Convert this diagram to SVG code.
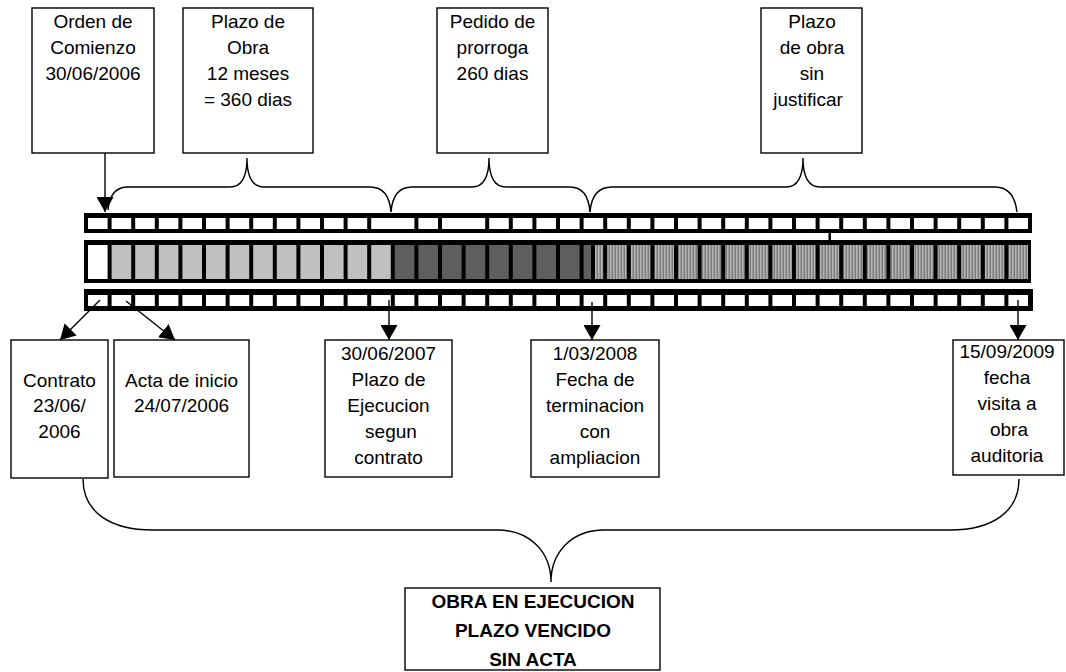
<svg xmlns="http://www.w3.org/2000/svg" xmlns:xlink="http://www.w3.org/1999/xlink" width="1066" height="672" viewBox="0 0 1066 672">
<style>
.box{fill:#fff;stroke:#000;stroke-width:1.4}
.t{font-family:"Liberation Sans",Arial,sans-serif;font-size:19px;fill:#000;text-anchor:middle}
.tb{font-family:"Liberation Sans",Arial,sans-serif;font-size:19px;font-weight:bold;fill:#000;text-anchor:middle}
.frame{fill:#000}
.w{fill:#fff}
.lg{fill:#c0c0c0}
.dg{fill:#5e5e5e}
.sg{fill:url(#stripe)}
.brace{fill:none;stroke:#000;stroke-width:1.4}
.arr{fill:none;stroke:#000;stroke-width:1.4;marker-end:url(#ah)}
</style>
<defs>
<pattern id="stripe" patternUnits="userSpaceOnUse" width="3" height="4">
<rect x="0" y="0" width="1" height="4" fill="#7c7c7c"/>
<rect x="1" y="0" width="1" height="4" fill="#b4b4b4"/>
<rect x="2" y="0" width="1" height="4" fill="#9a9a9a"/>
</pattern>
<marker id="ah" viewBox="0 0 15 17" refX="15" refY="8.5" markerWidth="15" markerHeight="17" markerUnits="userSpaceOnUse" orient="auto">
<path d="M0,0 L15,8.5 L0,17 z" fill="#000"/>
</marker>
</defs>
<rect x="0" y="0" width="1066" height="672" fill="#fff"/>

<g id="bar-top">
<rect class="frame" x="84" y="213" width="948" height="20"/>
<g class="w">
<rect x="88" y="218" width="19.6" height="11"/><rect x="111.6" y="218" width="19.6" height="11"/><rect x="135.2" y="218" width="19.6" height="11"/><rect x="158.8" y="218" width="19.6" height="11"/><rect x="182.4" y="218" width="19.6" height="11"/><rect x="206" y="218" width="19.6" height="11"/><rect x="229.6" y="218" width="19.6" height="11"/><rect x="253.2" y="218" width="19.6" height="11"/><rect x="276.8" y="218" width="19.6" height="11"/><rect x="300.4" y="218" width="19.6" height="11"/><rect x="324" y="218" width="19.6" height="11"/><rect x="347.6" y="218" width="19.6" height="11"/>
<rect x="371.2" y="218" width="43.2" height="11"/><rect x="418.4" y="218" width="19.6" height="11"/><rect x="442" y="218" width="43.2" height="11"/>
<rect x="489.2" y="218" width="19.6" height="11"/><rect x="512.8" y="218" width="19.6" height="11"/><rect x="536.4" y="218" width="19.6" height="11"/><rect x="560" y="218" width="19.6" height="11"/><rect x="583.6" y="218" width="19.6" height="11"/><rect x="607.2" y="218" width="19.6" height="11"/><rect x="630.8" y="218" width="19.6" height="11"/><rect x="654.4" y="218" width="19.6" height="11"/><rect x="678" y="218" width="19.6" height="11"/><rect x="701.6" y="218" width="19.6" height="11"/><rect x="725.2" y="218" width="19.6" height="11"/><rect x="748.8" y="218" width="19.6" height="11"/><rect x="772.4" y="218" width="19.6" height="11"/><rect x="796" y="218" width="19.6" height="11"/><rect x="819.6" y="218" width="19.6" height="11"/><rect x="843.2" y="218" width="19.6" height="11"/><rect x="866.8" y="218" width="19.6" height="11"/><rect x="890.4" y="218" width="19.6" height="11"/><rect x="914" y="218" width="19.6" height="11"/><rect x="937.6" y="218" width="19.6" height="11"/><rect x="961.2" y="218" width="19.6" height="11"/><rect x="984.8" y="218" width="19.6" height="11"/><rect x="1008.4" y="218" width="19.6" height="11"/>
</g>
<rect class="frame" x="828.5" y="233" width="2.5" height="7"/>
</g>

<g id="bar-middle">
<rect class="frame" x="84" y="240" width="947" height="43"/>
<rect class="w" x="88" y="245" width="19.6" height="34"/>
<g class="lg">
<rect x="111.6" y="245" width="19.6" height="34"/><rect x="135.2" y="245" width="19.6" height="34"/><rect x="158.8" y="245" width="19.6" height="34"/><rect x="182.4" y="245" width="19.6" height="34"/><rect x="206" y="245" width="19.6" height="34"/><rect x="229.6" y="245" width="19.6" height="34"/><rect x="253.2" y="245" width="19.6" height="34"/><rect x="276.8" y="245" width="19.6" height="34"/><rect x="300.4" y="245" width="19.6" height="34"/><rect x="324" y="245" width="19.6" height="34"/><rect x="347.6" y="245" width="19.6" height="34"/><rect x="371.2" y="245" width="19.6" height="34"/>
</g>
<g class="dg">
<rect x="394.8" y="245" width="19.6" height="34"/><rect x="418.4" y="245" width="19.6" height="34"/><rect x="442" y="245" width="19.6" height="34"/><rect x="465.6" y="245" width="19.6" height="34"/><rect x="489.2" y="245" width="19.6" height="34"/><rect x="512.8" y="245" width="19.6" height="34"/><rect x="536.4" y="245" width="19.6" height="34"/><rect x="560" y="245" width="19.6" height="34"/><rect x="583.6" y="245" width="7.4" height="34"/>
</g>
<g class="sg">
<rect x="595" y="245" width="8.2" height="34"/>
<rect x="607.2" y="245" width="19.6" height="34"/><rect x="630.8" y="245" width="19.6" height="34"/><rect x="654.4" y="245" width="19.6" height="34"/><rect x="678" y="245" width="19.6" height="34"/><rect x="701.6" y="245" width="19.6" height="34"/><rect x="725.2" y="245" width="19.6" height="34"/><rect x="748.8" y="245" width="19.6" height="34"/><rect x="772.4" y="245" width="19.6" height="34"/><rect x="796" y="245" width="19.6" height="34"/><rect x="819.6" y="245" width="19.6" height="34"/><rect x="843.2" y="245" width="19.6" height="34"/><rect x="866.8" y="245" width="19.6" height="34"/><rect x="890.4" y="245" width="19.6" height="34"/><rect x="914" y="245" width="19.6" height="34"/><rect x="937.6" y="245" width="19.6" height="34"/><rect x="961.2" y="245" width="19.6" height="34"/><rect x="984.8" y="245" width="19.6" height="34"/><rect x="1008.4" y="245" width="19.6" height="34"/>
</g>
</g>

<g id="bar-bottom">
<rect class="frame" x="84" y="289" width="949" height="22"/>
<g class="w">
<rect x="88" y="295" width="19.6" height="11"/><rect x="111.6" y="295" width="19.6" height="11"/><rect x="135.2" y="295" width="19.6" height="11"/><rect x="158.8" y="295" width="19.6" height="11"/><rect x="182.4" y="295" width="19.6" height="11"/><rect x="206" y="295" width="19.6" height="11"/><rect x="229.6" y="295" width="19.6" height="11"/><rect x="253.2" y="295" width="19.6" height="11"/><rect x="276.8" y="295" width="19.6" height="11"/><rect x="300.4" y="295" width="19.6" height="11"/><rect x="324" y="295" width="19.6" height="11"/><rect x="347.6" y="295" width="19.6" height="11"/><rect x="371.2" y="295" width="19.6" height="11"/><rect x="394.8" y="295" width="19.6" height="11"/><rect x="418.4" y="295" width="19.6" height="11"/><rect x="442" y="295" width="19.6" height="11"/><rect x="465.6" y="295" width="19.6" height="11"/><rect x="489.2" y="295" width="19.6" height="11"/><rect x="512.8" y="295" width="19.6" height="11"/><rect x="536.4" y="295" width="19.6" height="11"/><rect x="560" y="295" width="19.6" height="11"/><rect x="583.6" y="295" width="19.6" height="11"/><rect x="607.2" y="295" width="19.6" height="11"/><rect x="630.8" y="295" width="19.6" height="11"/><rect x="654.4" y="295" width="19.6" height="11"/><rect x="678" y="295" width="19.6" height="11"/><rect x="701.6" y="295" width="19.6" height="11"/><rect x="725.2" y="295" width="19.6" height="11"/><rect x="748.8" y="295" width="19.6" height="11"/><rect x="772.4" y="295" width="19.6" height="11"/><rect x="796" y="295" width="19.6" height="11"/><rect x="819.6" y="295" width="19.6" height="11"/><rect x="843.2" y="295" width="19.6" height="11"/><rect x="866.8" y="295" width="19.6" height="11"/><rect x="890.4" y="295" width="19.6" height="11"/><rect x="914" y="295" width="19.6" height="11"/><rect x="937.6" y="295" width="19.6" height="11"/><rect x="961.2" y="295" width="19.6" height="11"/><rect x="984.8" y="295" width="19.6" height="11"/><rect x="1008.4" y="295" width="19.6" height="11"/>
</g>
</g>

<g id="node-orden">
<rect class="box" x="32" y="8" width="122" height="145"/>
<text class="t" x="93" y="28">Orden de</text>
<text class="t" x="93" y="54">Comienzo</text>
<text class="t" x="93" y="80">30/06/2006</text>
</g>
<g id="node-plazo-obra">
<rect class="box" x="183" y="8" width="130" height="145"/>
<text class="t" x="248" y="28">Plazo de</text>
<text class="t" x="248" y="54">Obra</text>
<text class="t" x="248" y="80">12 meses</text>
<text class="t" x="248" y="106">= 360 dias</text>
</g>
<g id="node-pedido">
<rect class="box" x="437" y="8" width="111" height="145"/>
<text class="t" x="492.5" y="28">Pedido de</text>
<text class="t" x="492.5" y="54">prorroga</text>
<text class="t" x="492.5" y="80">260 dias</text>
</g>
<g id="node-sin-justificar">
<rect class="box" x="761" y="8" width="101" height="145"/>
<text class="t" x="812" y="28">Plazo</text>
<text class="t" x="812" y="54">de obra</text>
<text class="t" x="812" y="80">sin</text>
<text class="t" x="808" y="106">justificar</text>
</g>

<g id="node-contrato">
<rect class="box" x="11" y="340" width="97" height="138"/>
<text class="t" x="59.5" y="387">Contrato</text>
<text class="t" x="59.5" y="412">23/06/</text>
<text class="t" x="59.5" y="438">2006</text>
</g>
<g id="node-acta">
<rect class="box" x="114" y="340" width="135" height="137"/>
<text class="t" x="181.5" y="387">Acta de inicio</text>
<text class="t" x="181.5" y="412">24/07/2006</text>
</g>
<g id="node-plazo-ejecucion">
<rect class="box" x="325" y="340" width="127" height="137"/>
<text class="t" x="388.5" y="360">30/06/2007</text>
<text class="t" x="388.5" y="386">Plazo de</text>
<text class="t" x="388.5" y="412">Ejecucion</text>
<text class="t" x="391" y="438">segun</text>
<text class="t" x="388.5" y="464">contrato</text>
</g>
<g id="node-terminacion">
<rect class="box" x="531" y="340" width="128" height="137"/>
<text class="t" x="595" y="360">1/03/2008</text>
<text class="t" x="595" y="386">Fecha de</text>
<text class="t" x="595" y="412">terminacion</text>
<text class="t" x="595" y="438">con</text>
<text class="t" x="595" y="464">ampliacion</text>
</g>
<g id="node-visita">
<rect class="box" x="953" y="340" width="111" height="135"/>
<text class="t" x="1007" y="358">15/09/2009</text>
<text class="t" x="1007" y="384">fecha</text>
<text class="t" x="1007" y="410">visita a</text>
<text class="t" x="1009" y="436">obra</text>
<text class="t" x="1007" y="462">auditoria</text>
</g>
<g id="node-obra">
<rect class="box" x="405" y="588" width="255" height="82"/>
<text class="tb" x="533" y="608">OBRA EN EJECUCION</text>
<text class="tb" x="533" y="637">PLAZO VENCIDO</text>
<text class="tb" x="533" y="666">SIN ACTA</text>
</g>

<g id="connectors">
<path class="arr" d="M105,153 L105,212"/>
<path class="arr" d="M100,300 L60,340"/>
<path class="arr" d="M126,301 L175,340"/>
<path class="arr" d="M389,300 L389,340"/>
<path class="arr" d="M592,302 L592,340"/>
<path class="arr" d="M1018,300 L1018,340"/>
<path class="brace" d="M108,210 Q110,187 128,187 L230,187 Q247,187 247,158 Q247,187 264,187 L370,187 Q389,187 391,212"/>
<path class="brace" d="M391,212 Q393,187 412,187 L472,187 Q489,187 489,158 Q489,187 506,187 L570,187 Q588,187 590,212"/>
<path class="brace" d="M590,212 Q592,187 612,187 L786,187 Q803,187 803,158 Q803,187 820,187 L995,187 Q1014,187 1017,212"/>
<path class="brace" d="M83,479 C83,512 110,530 153,530 L497,530 C530,530 551,552 551,582 C551,552 572,530 604,530 L950,530 C992,530 1019,512 1019,479"/>
</g>
</svg>
